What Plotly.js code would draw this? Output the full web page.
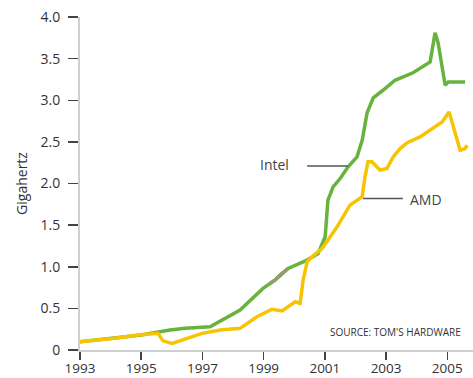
<!DOCTYPE html>
<html>
<head>
<meta charset="utf-8">
<script src="https://cdn.plot.ly/plotly-3.0.1.min.js"></script>
<style>html,body{margin:0;padding:0;background:#fff;}#chart{width:473px;height:378px;}</style>
</head>
<body>
<div id="chart"></div>
<script>
const intelYears = [1993.0,1995.0,1995.94,1996.43,1997.25,1998.23,1998.98,1999.37,1999.8,2000.42,2000.78,2001.01,2001.1,2001.27,2001.5,2001.76,2002.05,2002.22,2002.38,2002.58,2002.9,2003.29,2003.88,2004.21,2004.44,2004.6,2004.7,2004.93,2005.03,2005.58];
const intelGHz   = [0.10,0.18,0.24,0.26,0.28,0.48,0.74,0.84,0.98,1.08,1.16,1.36,1.80,1.96,2.06,2.20,2.32,2.52,2.85,3.03,3.12,3.24,3.33,3.40,3.46,3.81,3.69,3.18,3.22,3.22];
const intelGreyYears = [1999.2,1999.37,1999.6,1999.8];
const intelGreyGHz   = [0.80,0.84,0.92,0.98];
const amdYears = [1993.0,1994.14,1994.9,1995.55,1995.71,1996.01,1996.43,1996.99,1997.58,1998.23,1998.78,1999.27,1999.6,1999.86,2000.03,2000.19,2000.29,2000.42,2000.58,2000.91,2001.1,2001.4,2001.82,2002.22,2002.31,2002.41,2002.54,2002.8,2003.03,2003.23,2003.46,2003.69,2004.11,2004.67,2004.83,2005.06,2005.25,2005.42,2005.58,2005.65];
const amdGHz   = [0.10,0.14,0.18,0.20,0.11,0.08,0.13,0.20,0.24,0.26,0.40,0.49,0.47,0.54,0.58,0.56,0.84,1.06,1.12,1.22,1.32,1.48,1.74,1.84,2.08,2.26,2.26,2.16,2.18,2.32,2.42,2.49,2.56,2.70,2.74,2.86,2.60,2.40,2.42,2.46];
const xTicks = [1993,1995,1997,1999,2001,2003,2005];
const xTickText = ["1993","1995","1997","1999","2001","2003","2005"];
const yTicks = [0,0.5,1,1.5,2,2.5,3,3.5,4];
const yTickText = ["0","0.5","1.0","1.5","2.0","2.5","3.0","3.5","4.0"];

const FONT = "Open Sans, Lato, sans-serif";
const GREEN = "#66b33d";
const YELLOW = "#f6c400";

const traces = [
  {x: intelYears, y: intelGHz, mode: "lines", line: {color: GREEN, width: 3.5}, hoverinfo: "skip"},
  {x: intelGreyYears, y: intelGreyGHz, mode: "lines", line: {color: "#8f9d6f", width: 3.5}, hoverinfo: "skip"},
  {x: amdYears, y: amdGHz, mode: "lines", line: {color: YELLOW, width: 3.5}, hoverinfo: "skip"}
];

const layout = {
  width: 473, height: 378,
  margin: {l: 80, r: 0, t: 17, b: 28, pad: 0},
  paper_bgcolor: "#fff", plot_bgcolor: "#fff",
  showlegend: false,
  font: {family: FONT, size: 14, color: "#333"},
  xaxis: {
    range: [1993, 2005.84], showgrid: false, zeroline: false,
    showline: true, linecolor: "#cfcfcf", linewidth: 2,
    tickmode: "array", tickvals: xTicks, ticktext: xTickText,
    ticks: "outside", ticklen: 8, tickwidth: 1.5, tickcolor: "#444",
    ticklabelstandoff: -3,
    tickfont: {family: FONT, size: 13.5, color: "#333"}
  },
  yaxis: {
    range: [0, 4.0], showgrid: false, zeroline: false,
    showline: true, linecolor: "#cfcfcf", linewidth: 2,
    tickmode: "array", tickvals: yTicks, ticktext: yTickText,
    ticks: "outside", ticklen: 10, tickwidth: 1.5, tickcolor: "#444",
    ticklabelstandoff: 5,
    tickfont: {family: FONT, size: 14, color: "#333"},
    title: {text: "Gigahertz", font: {family: FONT, size: 14, color: "#333"}, standoff: 10}
  },
  shapes: [
    {type: "line", xref: "x", yref: "y", x0: 2000.42, x1: 2001.76, y0: 2.21, y1: 2.21, line: {color: "#555", width: 1.5}},
    {type: "line", xref: "x", yref: "y", x0: 2002.25, x1: 2003.55, y0: 1.82, y1: 1.82, line: {color: "#555", width: 1.5}}
  ],
  annotations: [
    {x: 1999.34, y: 2.23, xref: "x", yref: "y", text: "Intel", showarrow: false, font: {family: FONT, size: 14, color: "#444"}},
    {x: 2004.3, y: 1.81, xref: "x", yref: "y", text: "AMD", showarrow: false, font: {family: FONT, size: 14, color: "#444"}},
    {x: 2001.10, y: 0.216, xref: "x", yref: "y", xanchor: "left", text: "SOURCE: TOM'S HARDWARE", showarrow: false, font: {family: FONT, size: 10, color: "#333"}}
  ]
};

Plotly.newPlot("chart", traces, layout, {displayModeBar: false, staticPlot: true});
</script>
</body>
</html>
